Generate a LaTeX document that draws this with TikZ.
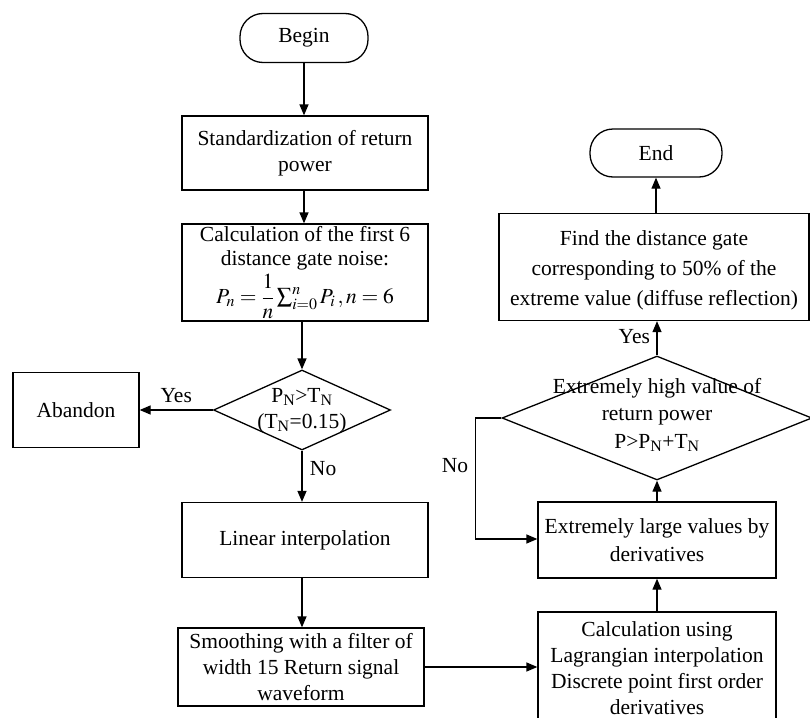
\documentclass[tikz,border=0pt]{standalone}
\usepackage{mathptmx}
\usepackage[no-math]{fontspec}
\setmainfont{Liberation Serif}
\usetikzlibrary{shapes.geometric,arrows.meta}
\begin{document}
\begin{tikzpicture}[x=1pt,y=-1pt,
  txt/.style={font=\fontsize{21.5}{26}\selectfont, align=center},
  box/.style={txt, draw, line width=1.3pt, inner sep=0pt},
  term/.style={box, rounded corners=23pt},
  dia/.style={draw, line width=1.3pt, diamond, inner sep=0pt},
  arr/.style={-{Triangle[length=11pt,width=9pt]}, line width=1.3pt}]
\useasboundingbox (0,0) rectangle (810,717);
% left column
\node[term, minimum width=128, minimum height=49] (begin) at (304,38) {Begin};
\node[box, minimum width=246, minimum height=74] (std) at (305,153) {Standardization of return\\power};
\node[box, minimum width=246, minimum height=97, font=\fontsize{21.5}{24}\selectfont] (calc6) at (305,272.5) {Calculation of the first 6\\distance gate noise:\\[3pt]$P_n={\displaystyle\frac{1}{n}}\textstyle\sum_{i=0}^{n}P_i\,, n=6$};
\node[dia, minimum width=177, minimum height=80] (d1) at (302,410) {};
\node[txt] (d1t) at (302,411) {P\textsubscript{N}>T\textsubscript{N}\\(T\textsubscript{N}=0.15)};
\node[box, minimum width=126, minimum height=75] (aband) at (76,410) {Abandon};
\node[box, minimum width=246, minimum height=75] (lin) at (305,540) {Linear interpolation};
\node[box, minimum width=246, minimum height=78] (smooth) at (301,667) {Smoothing with a filter of\\width 15 Return signal\\waveform};
% right column
\node[box, minimum width=238, minimum height=112] (lag) at (657,668) {Calculation using\\Lagrangian interpolation\\Discrete point first order\\derivatives};
\node[box, minimum width=238, minimum height=76, font=\fontsize{21.5}{28}\selectfont] (ext) at (657,540) {Extremely large values by\\derivatives};
\node[dia, minimum width=310, minimum height=124] (d2) at (657,418) {};
\node[txt, font=\fontsize{21.5}{27.5}\selectfont] (d2t) at (657,415) {Extremely high value of\\return power\\P>P\textsubscript{N}+T\textsubscript{N}};
\node[box, minimum width=310, minimum height=107] (find) at (654,267) {};
\node[txt, font=\fontsize{21.5}{30}\selectfont] (findt) at (654,270) {Find the distance gate\\corresponding to 50\% of the\\extreme value (diffuse reflection)};
\node[term, minimum width=132, minimum height=48] (end) at (656,153) {End};
% connectors
\draw[arr] (begin.south) -- (begin.south |- std.north);
\draw[arr] (std.south -| begin.south) -- (begin.south |- calc6.north);
\draw[arr] (calc6.south -| d1.north) -- (d1.north);
\draw[arr] (d1.west) -- (aband.east |- d1.west) node[txt, midway, above=3pt] (yes1) {Yes};
\draw[arr] (d1.south) -- (d1.south |- lin.north) node[txt, pos=0.35, right=4pt] (no1) {No};
\draw[arr] (lin.south -| d1.south) -- (d1.south |- smooth.north);
\draw[arr] (smooth.east) -- (smooth.east -| lag.west);
\draw[arr] (lag.north) -- (ext.south);
\draw[arr] (ext.north) -- (d2.south);
\draw[arr] (d2.west) -- ++(-26,0) coordinate (nocorner) |- ([yshift=1pt]ext.west);
\node[txt] (no2) at (455,466) {No};
\draw[arr] (d2.north) -- (d2.north |- find.south) node[txt, pos=0.55, left=3pt] (yes2) {Yes};
\draw[arr] (end.south |- find.north) -- (end.south);
\end{tikzpicture}
\end{document}
